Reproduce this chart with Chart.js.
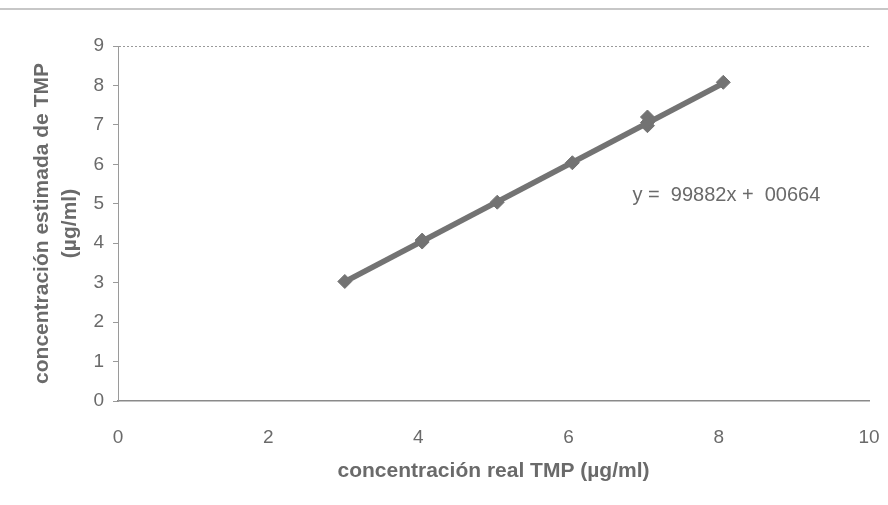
<!DOCTYPE html>
<html>
<head>
<meta charset="utf-8">
<title>Curva de calibración TMP</title>
<script src="https://cdn.jsdelivr.net/npm/chart.js@4/dist/chart.umd.min.js"></script>
<style>
  body { margin: 0; background: #fff; }
  #wrap { width: 888px; height: 505px; position: relative; }
</style>
</head>
<body>
<div id="wrap"><canvas id="calChart"></canvas></div>
<script>
// measured samples: real vs estimated concentration (µg/ml)
const realConc = [3.02, 4.05, 4.05, 5.05, 6.05, 7.05, 7.05, 7.05, 8.06];
const estConc = [3.03, 4.03, 4.08, 5.04, 6.04, 6.98, 7.20, 7.06, 8.08];

// linear fit shown on the chart
const slope = 0.99882;
const intercept = 0.00664;
const fitLabel = "y =  99882x +  00664";
const fitLabelAt = [6.85, 5.22];

const xTicks = [0, 2, 4, 6, 8, 10];
const yTicks = [0, 1, 2, 3, 4, 5, 6, 7, 8, 9];

const grey = "#737373";
const textGrey = "#6a6a6a";
const family = "'Liberation Sans', Arial, sans-serif";

// trend line spans the measured range
const xMin = Math.min(...realConc);
const xMax = Math.max(...realConc);
const fitLine = [xMin, xMax].map(x => ({ x: x, y: slope * x + intercept }));

const points = realConc.map((x, i) => ({ x: x, y: estConc[i] }));

// equation text + thin rule at the top of the page
const extras = {
    id: "extras",
    afterDraw(chart) {
        const ctx = chart.ctx;
        const xs = chart.scales.x;
        const ys = chart.scales.y;
        ctx.save();
        ctx.strokeStyle = "#b5b5b5";
        ctx.lineWidth = 1.5;
        ctx.beginPath();
        ctx.moveTo(0, 9);
        ctx.lineTo(chart.width, 9);
        ctx.stroke();

        ctx.fillStyle = textGrey;
        ctx.font = "20px " + family;
        ctx.textBaseline = "middle";
        ctx.textAlign = "left";
        ctx.fillText(fitLabel, xs.getPixelForValue(fitLabelAt[0]), ys.getPixelForValue(fitLabelAt[1]));
        ctx.restore();
    }
};

const ctx = document.getElementById("calChart").getContext("2d");
new Chart(ctx, {
    type: "scatter",
    data: {
        datasets: [
            {
                type: "line",
                label: "ajuste",
                data: fitLine,
                borderColor: grey,
                borderWidth: 5.5,
                pointRadius: 0,
                fill: false
            },
            {
                label: "muestras",
                data: points,
                pointStyle: "rectRot",
                pointRadius: 7,
                backgroundColor: grey,
                borderColor: grey,
                borderWidth: 1
            }
        ]
    },
    options: {
        responsive: true,
        maintainAspectRatio: false,
        animation: false,
        layout: { padding: { top: 46, right: 19, left: 0, bottom: 0 } },
        plugins: {
            legend: { display: false },
            tooltip: { enabled: false }
        },
        scales: {
            x: {
                type: "linear",
                min: 0,
                max: 10,
                afterFit: s => {
                    s.height = 104;
                    s.paddingLeft = 0;
                    s.paddingRight = 0;
                },
                afterBuildTicks: s => { s.ticks = xTicks.map(v => ({ value: v })); },
                grid: { display: false },
                border: { display: true, color: "#8a8a8a", width: 1.5 },
                ticks: {
                    padding: 17,
                    color: textGrey,
                    font: { family: family, size: 19 }
                },
                title: {
                    display: true,
                    text: "concentración real TMP (µg/ml)",
                    color: textGrey,
                    padding: { bottom: 21 },
                    font: { family: family, size: 21, weight: "bold" }
                }
            },
            y: {
                type: "linear",
                min: 0,
                max: 9,
                afterFit: s => {
                    s.width = 118;
                    s.paddingTop = 0;
                    s.paddingBottom = 0;
                },
                afterBuildTicks: s => { s.ticks = yTicks.map(v => ({ value: v })); },
                grid: {
                    drawOnChartArea: true,
                    color: c => (c.tick && c.tick.value === 9 ? "#9a9a9a" : "rgba(0,0,0,0)"),
                    tickColor: "#9a9a9a",
                    tickLength: 5
                },
                border: { display: true, color: "#9a9a9a", width: 1, dash: [2, 2] },
                ticks: {
                    padding: 9,
                    color: textGrey,
                    font: { family: family, size: 19 }
                },
                title: {
                    display: true,
                    text: ["concentración estimada de TMP", "(µg/ml)"],
                    color: textGrey,
                    padding: { top: 28 },
                    font: { family: family, size: 21, weight: "bold", lineHeight: 1.35 }
                }
            }
        }
    },
    plugins: [extras]
});
</script>
</body>
</html>
